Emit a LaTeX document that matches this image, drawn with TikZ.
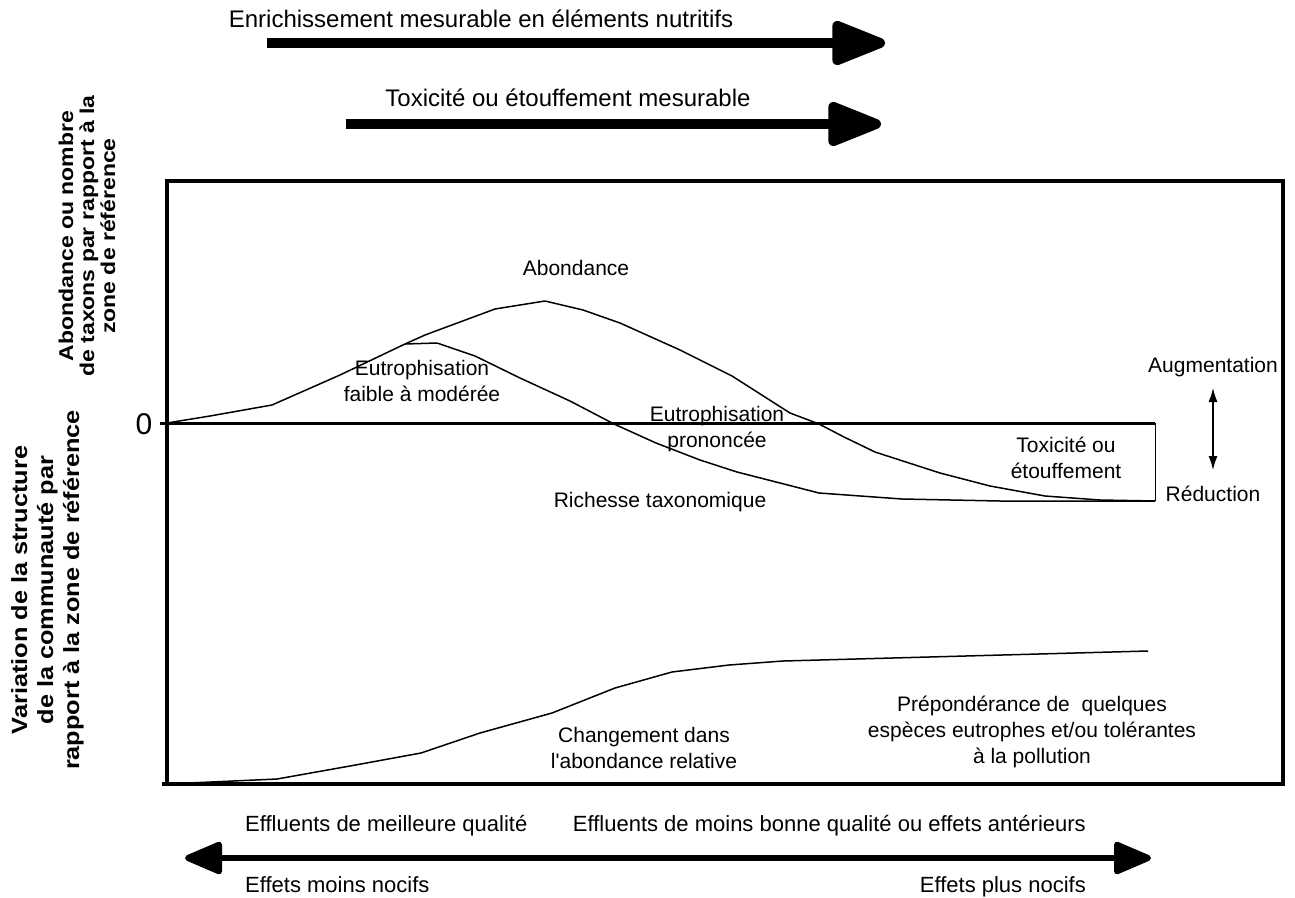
\documentclass[tikz,border=0pt]{standalone}
\usepackage{graphicx}
\usepackage{fontspec}
\setmainfont{Liberation Sans}
\usetikzlibrary{arrows.meta}
\newcommand{\stretchtxt}[1]{\scalebox{1.15}[1]{\begin{tabular}{@{}c@{}}#1\end{tabular}}}
\begin{document}
\begin{tikzpicture}[x=1pt,y=-1pt,
  lbl/.style={font=\fontsize{21}{26}\selectfont, align=center, inner sep=0pt},
  btmlbl/.style={font=\fontsize{22}{26}\selectfont, inner sep=0pt},
  toplbl/.style={font=\fontsize{24}{28}\selectfont, inner sep=0pt},
  vlbl/.style={font=\bfseries\fontsize{20}{21}\selectfont, rotate=90, inner sep=0pt},
  vlblb/.style={font=\bfseries\fontsize{22}{26}\selectfont, rotate=90, inner sep=0pt},
  curve/.style={line width=1.5pt, line join=round},
  bigarrow/.style={line width=10pt, -{Triangle[length=62pt,width=46pt,round]}},
  botarrow/.style={line width=6pt, {Triangle[length=42pt,width=34pt,round]}-{Triangle[length=42pt,width=34pt,round]}},
  smallarrow/.style={line width=1.3pt, {Latex[length=14pt,width=9pt]}-{Latex[length=14pt,width=9pt]}},
]
\useasboundingbox (0,0) rectangle (1295,897);

% top arrows
\node[toplbl] (t1) at (481,19) {Enrichissement mesurable en éléments nutritifs};
\coordinate (a1s) at (267,43);
\coordinate (a1e) at (885,43);
\draw[bigarrow] (a1s) -- (a1e);
\node[toplbl] (t2) at (568,98) {Toxicité ou étouffement mesurable};
\coordinate (a2s) at (346,124);
\coordinate (a2e) at (881,124);
\draw[bigarrow] (a2s) -- (a2e);

% frame
\coordinate (fbl) at (167,784);
\coordinate (ftr) at (1283,181);
\draw[line width=3.5pt] (fbl) rectangle (ftr);
\coordinate (ftick) at (162,784);
\draw[line width=3.5pt] (ftick) -- (fbl);

% zero line
\node[font=\fontsize{30}{34}\selectfont, inner sep=0pt] (zero) at (144,424) {0};
\coordinate (z0) at (160,423);
\coordinate (z1) at (1155,423);
\draw[line width=3pt] (z0) -- (z1);
\coordinate (z2) at (1155,501);
\draw[line width=1pt] (z1) -- (z2);

% abundance curve
\draw[curve] (167,423) -- (210,416) -- (272,405) -- (340,375) -- (405,344) -- (425,335)
  -- (495,309) -- (545,301) -- (583,310) -- (620,323) -- (680,350) -- (732,376)
  -- (790,413) -- (819,424) -- (844,437) -- (875,452) -- (940,473) -- (990,486)
  -- (1045,496) -- (1100,500) -- (1155,501);
% richness curve
\draw[curve] (405,344) -- (437,343) -- (475,356) -- (520,378) -- (570,401) -- (614,424)
  -- (656,443) -- (700,460) -- (737,472) -- (780,483) -- (819,493) -- (902,499)
  -- (1000,501) -- (1155,501);
% lower curve
\draw[curve] (167,784) -- (277,779) -- (350,766) -- (421,753) -- (480,733) -- (552,713)
  -- (615,688) -- (672,672) -- (729,665) -- (783,661) -- (1148,651);

% labels in plot
\node[lbl] (abond) at (576,268) {Abondance};
\node[lbl] (eutf) at (422,381) {Eutrophisation\\faible à modérée};
\node[lbl] (eutp) at (717,429) {Eutrophisation\\prononcée};
\node[lbl] (tox) at (1066,458) {Toxicité ou\\étouffement};
\node[lbl] (rich) at (660,502) {Richesse taxonomique};
\node[lbl] (chg) at (644,748) {Changement dans\\l\textquotesingle abondance relative};
\node[lbl] (prep) at (1032,732) {Prépondérance de\ \ quelques\\espèces eutrophes et/ou tolérantes\\à la pollution};

% augmentation / reduction
\node[lbl] (aug) at (1213,367) {Augmentation};
\node[lbl] (red) at (1213,494) {Réduction};
\coordinate (sa1) at (1213,388);
\coordinate (sa2) at (1213,470);
\draw[smallarrow] (sa1) -- (sa2);

% vertical labels
\node[vlbl] (vl1) at (90,236) {\stretchtxt{Abondance ou nombre\\de taxons par rapport à la\\zone de référence}};
\node[vlblb] (vl2) at (48,590) {\stretchtxt{Variation de la structure\\de la communauté par\\rapport à la zone de référence}};

% bottom arrow
\node[btmlbl, anchor=base west] (ef1) at (245,831) {Effluents de meilleure qualité};
\node[btmlbl, anchor=base east] (ef2) at (1086,831) {Effluents de moins bonne qualité ou effets antérieurs};
\coordinate (b1) at (185,858);
\coordinate (b2) at (1151,858);
\draw[botarrow] (b1) -- (b2);
\node[btmlbl, anchor=base west] (en1) at (245,892) {Effets moins nocifs};
\node[btmlbl, anchor=base east] (en2) at (1086,892) {Effets plus nocifs};
\end{tikzpicture}
\end{document}
